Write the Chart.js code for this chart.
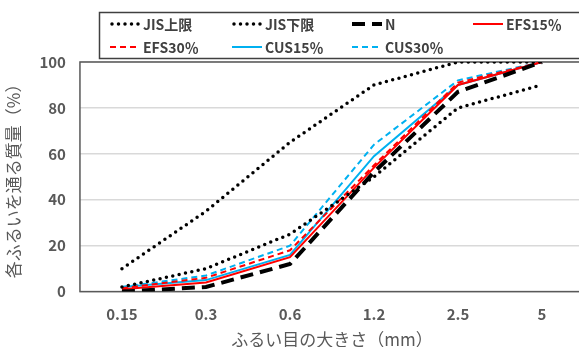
<!DOCTYPE html>
<html>
<head>
<meta charset="utf-8">
<script src="https://cdn.jsdelivr.net/npm/chart.js@4"></script>
<style>
body { margin: 0; overflow: hidden; background: #fff; }
#wrap { width: 600px; height: 347px; }
</style>
</head>
<body>
<div id="wrap"><canvas id="sieve"></canvas></div>
<script>
// ふるい目の大きさ
const sieveLabels = ['0.15', '0.3', '0.6', '1.2', '2.5', '5']
const jisUpper = [10, 35, 65, 90, 100, 100]
const jisLower = [2, 10, 25, 50, 80, 90]
const dataN = [0, 2, 12, 52, 87, 100]
const dataEfs15 = [1, 4, 15, 54, 90, 100]
const dataEfs30 = [1.5, 6, 18, 55, 91, 100]
const dataCus15 = [2, 5, 16, 59, 90, 100]
const dataCus30 = [2, 7, 20, 64, 92, 100]
const yTicks = [0, 20, 40, 60, 80, 100]

const red = '#FF0000'
const blue = '#00B0F0'
const fontJP = "'Noto Sans CJK JP', 'Noto Sans', sans-serif"
const textGray = '#595959'

function line(label, data, color, width, dash, cap) {
	return {
		label: label,
		data: data,
		borderColor: color,
		backgroundColor: color,
		borderWidth: width,
		borderDash: dash,
		borderCapStyle: cap || 'butt',
		pointRadius: 0,
		tension: 0,
		fill: false
	}
}

// 凡例（枠付き、4列）
const boxLegend = {
	id: 'boxLegend',
	afterDraw(chart) {
		const c = chart.ctx
		const cols = [110, 232, 352, 473]
		const rows = [24, 47]
		c.save()
		c.strokeStyle = '#404040'
		c.lineWidth = 1.5
		c.setLineDash([])
		c.strokeRect(99.5, 12.5, 520, 46)
		chart.data.datasets.forEach((ds, i) => {
			const x = cols[i % 4]
			const y = rows[Math.floor(i / 4)]
			c.strokeStyle = ds.borderColor
			c.lineWidth = ds.borderWidth
			c.lineCap = ds.borderCapStyle
			c.setLineDash(ds.borderDash || [])
			c.beginPath()
			c.moveTo(x + (ds.borderCapStyle === 'round' ? 2 : 0), y)
			c.lineTo(x + 30, y)
			c.stroke()
			c.setLineDash([])
			c.fillStyle = '#404040'
			c.font = 'bold 14px ' + fontJP
			c.textBaseline = 'middle'
			c.fillText(ds.label, x + 33, y + 1)
		})
		c.restore()
	},
	beforeDatasetsDraw(chart) {
		const a = chart.chartArea
		const c = chart.ctx
		c.save()
		c.strokeStyle = '#595959'
		c.lineWidth = 1.5
		c.strokeRect(a.left, a.top, a.right - a.left, a.bottom - a.top)
		c.restore()
	}
}

const ctx = document.getElementById('sieve').getContext('2d')
const sieveChart = new Chart(ctx, {
	type: 'line',
	data: {
		labels: sieveLabels,
		datasets: [
			line('JIS上限', jisUpper, '#000', 3.5, [0, 6.5], 'round'),
			line('JIS下限', jisLower, '#000', 3.5, [0, 6.5], 'round'),
			line('N', dataN, '#000', 4, [13, 7]),
			line('EFS15％', dataEfs15, red, 2, []),
			line('EFS30％', dataEfs30, red, 2, [6, 4]),
			line('CUS15％', dataCus15, blue, 2, []),
			line('CUS30％', dataCus30, blue, 2, [6, 4])
		]
	},
	options: {
		responsive: true,
		maintainAspectRatio: false,
		animation: false,
		layout: { padding: { top: 62, right: 16, left: 3, bottom: 1 } },
		plugins: {
			legend: { display: false },
			tooltip: { enabled: false }
		},
		scales: {
			x: {
				offset: true,
				grid: { display: false },
				border: { display: false },
				ticks: {
					color: textGray,
					padding: 6,
					font: { family: fontJP, size: 15, weight: 'bold' }
				},
				title: {
					display: true,
					text: 'ふるい目の大きさ（mm）',
					color: textGray,
					padding: { top: 0, bottom: -4 },
					font: { family: fontJP, size: 17 }
				}
			},
			y: {
				min: 0,
				max: 100,
				afterBuildTicks(axis) { axis.ticks = yTicks.map(v => ({ value: v })) },
				grid: { color: '#D9D9D9', lineWidth: 1.5, drawTicks: false },
				border: { display: false },
				ticks: {
					color: textGray,
					padding: 14,
					font: { family: fontJP, size: 15, weight: 'bold' }
				},
				title: {
					display: true,
					text: '各ふるいを通る質量（%）',
					color: textGray,
					padding: { top: 0, bottom: 2 },
					font: { family: fontJP, size: 17 }
				}
			}
		}
	},
	plugins: [boxLegend]
})
</script>
</body>
</html>
